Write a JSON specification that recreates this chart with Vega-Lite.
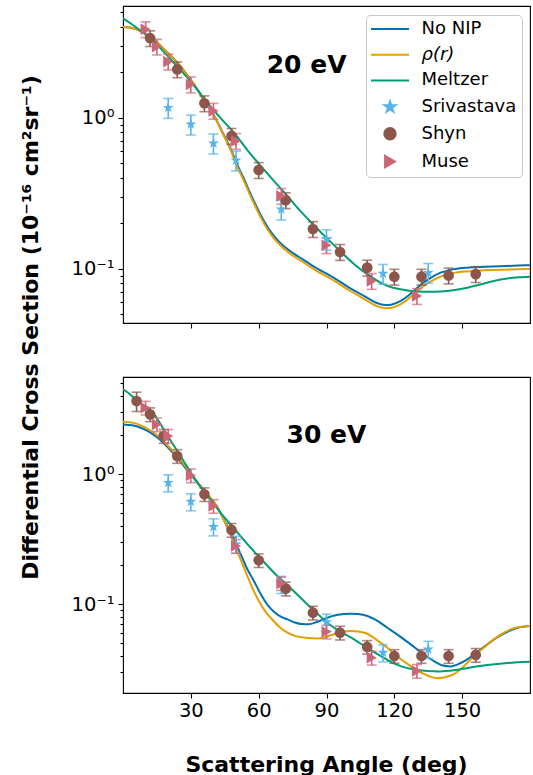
{
  "$schema": "https://vega.github.io/schema/vega-lite/v6.json",
  "padding": {"left": 18, "top": 5, "right": 4, "bottom": 0},
  "autosize": {"type": "pad"},
  "bounds": "flush",
  "spacing": 54,
  "config": {
    "font": "DejaVu Sans",
    "view": {"stroke": "black", "strokeWidth": 1.1},
    "axis": {"domain": false, "grid": false, "tickColor": "black", "labelColor": "black", "titleColor": "black", "labelFont": "DejaVu Sans", "titleFont": "DejaVu Sans", "tickWidth": 1.1}
  },
  "datasets": {
    "curves": [
      {"E":20,"series":"No NIP","angle":0,"dcs":3.98},{"E":20,"series":"No NIP","angle":3,"dcs":3.95},{"E":20,"series":"No NIP","angle":6,"dcs":3.85},{"E":20,"series":"No NIP","angle":10,"dcs":3.6},{"E":20,"series":"No NIP","angle":14,"dcs":3.28},{"E":20,"series":"No NIP","angle":18,"dcs":2.85},{"E":20,"series":"No NIP","angle":22,"dcs":2.5},{"E":20,"series":"No NIP","angle":24.1,"dcs":2.31},{"E":20,"series":"No NIP","angle":28,"dcs":1.95},{"E":20,"series":"No NIP","angle":32.9,"dcs":1.54},{"E":20,"series":"No NIP","angle":36,"dcs":1.28},{"E":20,"series":"No NIP","angle":40.3,"dcs":1.03},{"E":20,"series":"No NIP","angle":44,"dcs":0.8},{"E":20,"series":"No NIP","angle":47.7,"dcs":0.618},{"E":20,"series":"No NIP","angle":50.5,"dcs":0.49},{"E":20,"series":"No NIP","angle":53.6,"dcs":0.391},{"E":20,"series":"No NIP","angle":56,"dcs":0.322},{"E":20,"series":"No NIP","angle":58.7,"dcs":0.264},{"E":20,"series":"No NIP","angle":61,"dcs":0.225},{"E":20,"series":"No NIP","angle":64,"dcs":0.188},{"E":20,"series":"No NIP","angle":67,"dcs":0.163},{"E":20,"series":"No NIP","angle":70,"dcs":0.146},{"E":20,"series":"No NIP","angle":73,"dcs":0.134},{"E":20,"series":"No NIP","angle":76,"dcs":0.1245},{"E":20,"series":"No NIP","angle":79,"dcs":0.1165},{"E":20,"series":"No NIP","angle":85,"dcs":0.102},{"E":20,"series":"No NIP","angle":93.3,"dcs":0.087},{"E":20,"series":"No NIP","angle":100,"dcs":0.075},{"E":20,"series":"No NIP","angle":108.1,"dcs":0.0642},{"E":20,"series":"No NIP","angle":112,"dcs":0.0595},{"E":20,"series":"No NIP","angle":116.2,"dcs":0.0575},{"E":20,"series":"No NIP","angle":119,"dcs":0.058},{"E":20,"series":"No NIP","angle":122.8,"dcs":0.0612},{"E":20,"series":"No NIP","angle":126,"dcs":0.066},{"E":20,"series":"No NIP","angle":130.2,"dcs":0.0749},{"E":20,"series":"No NIP","angle":135,"dcs":0.085},{"E":20,"series":"No NIP","angle":140.5,"dcs":0.0941},{"E":20,"series":"No NIP","angle":146,"dcs":0.099},{"E":20,"series":"No NIP","angle":152.3,"dcs":0.1016},{"E":20,"series":"No NIP","angle":160,"dcs":0.103},{"E":20,"series":"No NIP","angle":167,"dcs":0.104},{"E":20,"series":"No NIP","angle":175,"dcs":0.105},{"E":20,"series":"No NIP","angle":180,"dcs":0.1056},
      {"E":20,"series":"ρ(r)","angle":0,"dcs":3.98},{"E":20,"series":"ρ(r)","angle":3,"dcs":3.95},{"E":20,"series":"ρ(r)","angle":6,"dcs":3.85},{"E":20,"series":"ρ(r)","angle":10,"dcs":3.6},{"E":20,"series":"ρ(r)","angle":14,"dcs":3.28},{"E":20,"series":"ρ(r)","angle":18,"dcs":2.85},{"E":20,"series":"ρ(r)","angle":22,"dcs":2.5},{"E":20,"series":"ρ(r)","angle":24.1,"dcs":2.31},{"E":20,"series":"ρ(r)","angle":28,"dcs":1.95},{"E":20,"series":"ρ(r)","angle":32.9,"dcs":1.54},{"E":20,"series":"ρ(r)","angle":36,"dcs":1.28},{"E":20,"series":"ρ(r)","angle":40.3,"dcs":1.03},{"E":20,"series":"ρ(r)","angle":44,"dcs":0.79},{"E":20,"series":"ρ(r)","angle":47.7,"dcs":0.605},{"E":20,"series":"ρ(r)","angle":50.5,"dcs":0.475},{"E":20,"series":"ρ(r)","angle":53.6,"dcs":0.378},{"E":20,"series":"ρ(r)","angle":56,"dcs":0.312},{"E":20,"series":"ρ(r)","angle":58.7,"dcs":0.255},{"E":20,"series":"ρ(r)","angle":61,"dcs":0.217},{"E":20,"series":"ρ(r)","angle":64,"dcs":0.181},{"E":20,"series":"ρ(r)","angle":67,"dcs":0.157},{"E":20,"series":"ρ(r)","angle":70,"dcs":0.141},{"E":20,"series":"ρ(r)","angle":73,"dcs":0.129},{"E":20,"series":"ρ(r)","angle":76,"dcs":0.1195},{"E":20,"series":"ρ(r)","angle":79,"dcs":0.112},{"E":20,"series":"ρ(r)","angle":85,"dcs":0.098},{"E":20,"series":"ρ(r)","angle":93.3,"dcs":0.0835},{"E":20,"series":"ρ(r)","angle":100,"dcs":0.072},{"E":20,"series":"ρ(r)","angle":108.1,"dcs":0.0613},{"E":20,"series":"ρ(r)","angle":112,"dcs":0.0568},{"E":20,"series":"ρ(r)","angle":116.2,"dcs":0.0548},{"E":20,"series":"ρ(r)","angle":119,"dcs":0.0552},{"E":20,"series":"ρ(r)","angle":122.8,"dcs":0.0582},{"E":20,"series":"ρ(r)","angle":126,"dcs":0.0628},{"E":20,"series":"ρ(r)","angle":130.2,"dcs":0.0712},{"E":20,"series":"ρ(r)","angle":135,"dcs":0.0805},{"E":20,"series":"ρ(r)","angle":140.5,"dcs":0.0888},{"E":20,"series":"ρ(r)","angle":146,"dcs":0.0935},{"E":20,"series":"ρ(r)","angle":152.3,"dcs":0.096},{"E":20,"series":"ρ(r)","angle":160,"dcs":0.0975},{"E":20,"series":"ρ(r)","angle":167,"dcs":0.0985},{"E":20,"series":"ρ(r)","angle":175,"dcs":0.0993},{"E":20,"series":"ρ(r)","angle":180,"dcs":0.0996},
      {"E":20,"series":"Meltzer","angle":0,"dcs":4.55},{"E":20,"series":"Meltzer","angle":1.2,"dcs":4.43},{"E":20,"series":"Meltzer","angle":5,"dcs":4.05},{"E":20,"series":"Meltzer","angle":10,"dcs":3.55},{"E":20,"series":"Meltzer","angle":13.8,"dcs":3.2},{"E":20,"series":"Meltzer","angle":18,"dcs":2.73},{"E":20,"series":"Meltzer","angle":20,"dcs":2.54},{"E":20,"series":"Meltzer","angle":24,"dcs":2.18},{"E":20,"series":"Meltzer","angle":28.5,"dcs":1.84},{"E":20,"series":"Meltzer","angle":33,"dcs":1.52},{"E":20,"series":"Meltzer","angle":37.3,"dcs":1.26},{"E":20,"series":"Meltzer","angle":43,"dcs":1.0},{"E":20,"series":"Meltzer","angle":49.1,"dcs":0.795},{"E":20,"series":"Meltzer","angle":55,"dcs":0.61},{"E":20,"series":"Meltzer","angle":60.9,"dcs":0.479},{"E":20,"series":"Meltzer","angle":66.8,"dcs":0.38},{"E":20,"series":"Meltzer","angle":72.7,"dcs":0.303},{"E":20,"series":"Meltzer","angle":78,"dcs":0.245},{"E":20,"series":"Meltzer","angle":84,"dcs":0.197},{"E":20,"series":"Meltzer","angle":90,"dcs":0.16},{"E":20,"series":"Meltzer","angle":96,"dcs":0.131},{"E":20,"series":"Meltzer","angle":102,"dcs":0.108},{"E":20,"series":"Meltzer","angle":108,"dcs":0.0921},{"E":20,"series":"Meltzer","angle":112,"dcs":0.084},{"E":20,"series":"Meltzer","angle":115.4,"dcs":0.0787},{"E":20,"series":"Meltzer","angle":119,"dcs":0.075},{"E":20,"series":"Meltzer","angle":122.8,"dcs":0.0732},{"E":20,"series":"Meltzer","angle":126.5,"dcs":0.0715},{"E":20,"series":"Meltzer","angle":130.2,"dcs":0.0707},{"E":20,"series":"Meltzer","angle":135,"dcs":0.0703},{"E":20,"series":"Meltzer","angle":140.5,"dcs":0.0707},{"E":20,"series":"Meltzer","angle":146,"dcs":0.072},{"E":20,"series":"Meltzer","angle":152.3,"dcs":0.0749},{"E":20,"series":"Meltzer","angle":158,"dcs":0.0785},{"E":20,"series":"Meltzer","angle":164,"dcs":0.083},{"E":20,"series":"Meltzer","angle":170,"dcs":0.0862},{"E":20,"series":"Meltzer","angle":175,"dcs":0.0878},{"E":20,"series":"Meltzer","angle":180,"dcs":0.0886},
      {"E":30,"series":"No NIP","angle":0,"dcs":2.42},{"E":30,"series":"No NIP","angle":4,"dcs":2.38},{"E":30,"series":"No NIP","angle":7.9,"dcs":2.28},{"E":30,"series":"No NIP","angle":12,"dcs":2.1},{"E":30,"series":"No NIP","angle":15.3,"dcs":1.91},{"E":30,"series":"No NIP","angle":20,"dcs":1.6},{"E":30,"series":"No NIP","angle":24.1,"dcs":1.34},{"E":30,"series":"No NIP","angle":28.5,"dcs":1.07},{"E":30,"series":"No NIP","angle":32.9,"dcs":0.862},{"E":30,"series":"No NIP","angle":37,"dcs":0.703},{"E":30,"series":"No NIP","angle":41.8,"dcs":0.553},{"E":30,"series":"No NIP","angle":45.5,"dcs":0.417},{"E":30,"series":"No NIP","angle":49.1,"dcs":0.316},{"E":30,"series":"No NIP","angle":52,"dcs":0.244},{"E":30,"series":"No NIP","angle":55,"dcs":0.186},{"E":30,"series":"No NIP","angle":58,"dcs":0.15},{"E":30,"series":"No NIP","angle":60.9,"dcs":0.12},{"E":30,"series":"No NIP","angle":63.9,"dcs":0.099},{"E":30,"series":"No NIP","angle":67,"dcs":0.087},{"E":30,"series":"No NIP","angle":70,"dcs":0.08},{"E":30,"series":"No NIP","angle":72.7,"dcs":0.0767},{"E":30,"series":"No NIP","angle":76,"dcs":0.0725},{"E":30,"series":"No NIP","angle":79,"dcs":0.0705},{"E":30,"series":"No NIP","angle":82,"dcs":0.0702},{"E":30,"series":"No NIP","angle":86,"dcs":0.0735},{"E":30,"series":"No NIP","angle":90.4,"dcs":0.0788},{"E":30,"series":"No NIP","angle":95,"dcs":0.083},{"E":30,"series":"No NIP","angle":100.7,"dcs":0.0847},{"E":30,"series":"No NIP","angle":104,"dcs":0.0842},{"E":30,"series":"No NIP","angle":108.1,"dcs":0.0813},{"E":30,"series":"No NIP","angle":112,"dcs":0.0755},{"E":30,"series":"No NIP","angle":116.9,"dcs":0.0661},{"E":30,"series":"No NIP","angle":122,"dcs":0.0575},{"E":30,"series":"No NIP","angle":127.2,"dcs":0.0492},{"E":30,"series":"No NIP","angle":132,"dcs":0.0425},{"E":30,"series":"No NIP","angle":137.5,"dcs":0.0366},{"E":30,"series":"No NIP","angle":141,"dcs":0.034},{"E":30,"series":"No NIP","angle":144.9,"dcs":0.0333},{"E":30,"series":"No NIP","angle":148,"dcs":0.0345},{"E":30,"series":"No NIP","angle":152.3,"dcs":0.0377},{"E":30,"series":"No NIP","angle":156,"dcs":0.042},{"E":30,"series":"No NIP","angle":161.1,"dcs":0.0492},{"E":30,"series":"No NIP","angle":165,"dcs":0.055},{"E":30,"series":"No NIP","angle":170,"dcs":0.0615},{"E":30,"series":"No NIP","angle":175,"dcs":0.0662},{"E":30,"series":"No NIP","angle":180,"dcs":0.0681},
      {"E":30,"series":"ρ(r)","angle":0,"dcs":2.54},{"E":30,"series":"ρ(r)","angle":4,"dcs":2.5},{"E":30,"series":"ρ(r)","angle":7.9,"dcs":2.38},{"E":30,"series":"ρ(r)","angle":12,"dcs":2.18},{"E":30,"series":"ρ(r)","angle":15.3,"dcs":1.98},{"E":30,"series":"ρ(r)","angle":20,"dcs":1.65},{"E":30,"series":"ρ(r)","angle":24.1,"dcs":1.37},{"E":30,"series":"ρ(r)","angle":28.5,"dcs":1.1},{"E":30,"series":"ρ(r)","angle":32.9,"dcs":0.875},{"E":30,"series":"ρ(r)","angle":37,"dcs":0.715},{"E":30,"series":"ρ(r)","angle":41.8,"dcs":0.56},{"E":30,"series":"ρ(r)","angle":45.5,"dcs":0.41},{"E":30,"series":"ρ(r)","angle":49.1,"dcs":0.295},{"E":30,"series":"ρ(r)","angle":52,"dcs":0.222},{"E":30,"series":"ρ(r)","angle":55,"dcs":0.165},{"E":30,"series":"ρ(r)","angle":58,"dcs":0.125},{"E":30,"series":"ρ(r)","angle":60.9,"dcs":0.1},{"E":30,"series":"ρ(r)","angle":63,"dcs":0.088},{"E":30,"series":"ρ(r)","angle":65.3,"dcs":0.0788},{"E":30,"series":"ρ(r)","angle":69,"dcs":0.0675},{"E":30,"series":"ρ(r)","angle":72.7,"dcs":0.0605},{"E":30,"series":"ρ(r)","angle":76,"dcs":0.0572},{"E":30,"series":"ρ(r)","angle":80.8,"dcs":0.0553},{"E":30,"series":"ρ(r)","angle":86,"dcs":0.0545},{"E":30,"series":"ρ(r)","angle":90,"dcs":0.0565},{"E":30,"series":"ρ(r)","angle":93.3,"dcs":0.0588},{"E":30,"series":"ρ(r)","angle":97,"dcs":0.0612},{"E":30,"series":"ρ(r)","angle":100.7,"dcs":0.0623},{"E":30,"series":"ρ(r)","angle":104,"dcs":0.0618},{"E":30,"series":"ρ(r)","angle":108.1,"dcs":0.0594},{"E":30,"series":"ρ(r)","angle":112,"dcs":0.0535},{"E":30,"series":"ρ(r)","angle":116.9,"dcs":0.0464},{"E":30,"series":"ρ(r)","angle":122,"dcs":0.039},{"E":30,"series":"ρ(r)","angle":127.2,"dcs":0.0335},{"E":30,"series":"ρ(r)","angle":132,"dcs":0.0298},{"E":30,"series":"ρ(r)","angle":136,"dcs":0.0277},{"E":30,"series":"ρ(r)","angle":139,"dcs":0.027},{"E":30,"series":"ρ(r)","angle":142,"dcs":0.0274},{"E":30,"series":"ρ(r)","angle":146.4,"dcs":0.029},{"E":30,"series":"ρ(r)","angle":150,"dcs":0.0325},{"E":30,"series":"ρ(r)","angle":155.2,"dcs":0.04},{"E":30,"series":"ρ(r)","angle":160,"dcs":0.047},{"E":30,"series":"ρ(r)","angle":164,"dcs":0.0538},{"E":30,"series":"ρ(r)","angle":168.5,"dcs":0.0605},{"E":30,"series":"ρ(r)","angle":172.9,"dcs":0.0654},{"E":30,"series":"ρ(r)","angle":177,"dcs":0.0675},{"E":30,"series":"ρ(r)","angle":180,"dcs":0.0681},
      {"E":30,"series":"Meltzer","angle":0,"dcs":4.5},{"E":30,"series":"Meltzer","angle":1.2,"dcs":4.37},{"E":30,"series":"Meltzer","angle":6,"dcs":3.73},{"E":30,"series":"Meltzer","angle":10,"dcs":3.28},{"E":30,"series":"Meltzer","angle":13.8,"dcs":2.89},{"E":30,"series":"Meltzer","angle":18,"dcs":2.21},{"E":30,"series":"Meltzer","angle":22.6,"dcs":1.65},{"E":30,"series":"Meltzer","angle":27,"dcs":1.25},{"E":30,"series":"Meltzer","angle":32.9,"dcs":0.862},{"E":30,"series":"Meltzer","angle":38,"dcs":0.662},{"E":30,"series":"Meltzer","angle":43.2,"dcs":0.506},{"E":30,"series":"Meltzer","angle":49,"dcs":0.385},{"E":30,"series":"Meltzer","angle":55,"dcs":0.29},{"E":30,"series":"Meltzer","angle":61,"dcs":0.224},{"E":30,"series":"Meltzer","angle":66.8,"dcs":0.175},{"E":30,"series":"Meltzer","angle":72,"dcs":0.144},{"E":30,"series":"Meltzer","angle":76,"dcs":0.124},{"E":30,"series":"Meltzer","angle":80.8,"dcs":0.103},{"E":30,"series":"Meltzer","angle":85,"dcs":0.0882},{"E":30,"series":"Meltzer","angle":90.4,"dcs":0.0722},{"E":30,"series":"Meltzer","angle":96,"dcs":0.0618},{"E":30,"series":"Meltzer","angle":102.2,"dcs":0.0538},{"E":30,"series":"Meltzer","angle":108,"dcs":0.0462},{"E":30,"series":"Meltzer","angle":114,"dcs":0.04},{"E":30,"series":"Meltzer","angle":118,"dcs":0.0365},{"E":30,"series":"Meltzer","angle":122.8,"dcs":0.0335},{"E":30,"series":"Meltzer","angle":128,"dcs":0.0318},{"E":30,"series":"Meltzer","angle":134.6,"dcs":0.0307},{"E":30,"series":"Meltzer","angle":140,"dcs":0.0305},{"E":30,"series":"Meltzer","angle":146.4,"dcs":0.0311},{"E":30,"series":"Meltzer","angle":153,"dcs":0.0325},{"E":30,"series":"Meltzer","angle":161.1,"dcs":0.0341},{"E":30,"series":"Meltzer","angle":170,"dcs":0.0354},{"E":30,"series":"Meltzer","angle":180,"dcs":0.0362}
    ],
    "exp": [
      {"E":20,"series":"Srivastava","angle":20,"dcs":1.165,"lo":0.99,"hi":1.34},{"E":20,"series":"Srivastava","angle":30,"dcs":0.904,"lo":0.768,"hi":1.04},{"E":20,"series":"Srivastava","angle":40,"dcs":0.677,"lo":0.575,"hi":0.779},{"E":20,"series":"Srivastava","angle":50,"dcs":0.522,"lo":0.444,"hi":0.6},{"E":20,"series":"Srivastava","angle":70,"dcs":0.247,"lo":0.21,"hi":0.284},{"E":20,"series":"Srivastava","angle":90,"dcs":0.157,"lo":0.133,"hi":0.181},{"E":20,"series":"Srivastava","angle":115,"dcs":0.0928,"lo":0.0789,"hi":0.1067},{"E":20,"series":"Srivastava","angle":135,"dcs":0.0941,"lo":0.08,"hi":0.1082},
      {"E":30,"series":"Srivastava","angle":20,"dcs":0.862,"lo":0.733,"hi":0.991},{"E":30,"series":"Srivastava","angle":30,"dcs":0.616,"lo":0.524,"hi":0.708},{"E":30,"series":"Srivastava","angle":40,"dcs":0.395,"lo":0.336,"hi":0.454},{"E":30,"series":"Srivastava","angle":50,"dcs":0.29,"lo":0.247,"hi":0.334},{"E":30,"series":"Srivastava","angle":70,"dcs":0.1425,"lo":0.121,"hi":0.164},{"E":30,"series":"Srivastava","angle":90,"dcs":0.0731,"lo":0.0621,"hi":0.0841},{"E":30,"series":"Srivastava","angle":115,"dcs":0.0425,"lo":0.0361,"hi":0.0489},{"E":30,"series":"Srivastava","angle":135,"dcs":0.0451,"lo":0.0383,"hi":0.0519},
      {"E":20,"series":"Shyn","angle":12,"dcs":3.36,"lo":2.96,"hi":3.76},{"E":20,"series":"Shyn","angle":24,"dcs":2.09,"lo":1.84,"hi":2.34},{"E":20,"series":"Shyn","angle":36,"dcs":1.245,"lo":1.096,"hi":1.394},{"E":20,"series":"Shyn","angle":48,"dcs":0.757,"lo":0.666,"hi":0.848},{"E":20,"series":"Shyn","angle":60,"dcs":0.45,"lo":0.396,"hi":0.504},{"E":20,"series":"Shyn","angle":72,"dcs":0.284,"lo":0.25,"hi":0.318},{"E":20,"series":"Shyn","angle":84,"dcs":0.183,"lo":0.161,"hi":0.205},{"E":20,"series":"Shyn","angle":96,"dcs":0.129,"lo":0.1135,"hi":0.1445},{"E":20,"series":"Shyn","angle":108,"dcs":0.1016,"lo":0.0894,"hi":0.1138},{"E":20,"series":"Shyn","angle":120,"dcs":0.0885,"lo":0.0779,"hi":0.0991},{"E":20,"series":"Shyn","angle":132,"dcs":0.0885,"lo":0.0779,"hi":0.0991},{"E":20,"series":"Shyn","angle":144,"dcs":0.0901,"lo":0.0793,"hi":0.1009},{"E":20,"series":"Shyn","angle":156,"dcs":0.0921,"lo":0.081,"hi":0.1032},
      {"E":30,"series":"Shyn","angle":6,"dcs":3.66,"lo":3.04,"hi":4.28},{"E":30,"series":"Shyn","angle":12,"dcs":2.89,"lo":2.54,"hi":3.24},{"E":30,"series":"Shyn","angle":18,"dcs":1.97,"lo":1.73,"hi":2.21},{"E":30,"series":"Shyn","angle":24,"dcs":1.38,"lo":1.214,"hi":1.546},{"E":30,"series":"Shyn","angle":36,"dcs":0.702,"lo":0.618,"hi":0.786},{"E":30,"series":"Shyn","angle":48,"dcs":0.373,"lo":0.328,"hi":0.418},{"E":30,"series":"Shyn","angle":60,"dcs":0.218,"lo":0.192,"hi":0.244},{"E":30,"series":"Shyn","angle":72,"dcs":0.132,"lo":0.116,"hi":0.148},{"E":30,"series":"Shyn","angle":84,"dcs":0.0862,"lo":0.0759,"hi":0.0965},{"E":30,"series":"Shyn","angle":96,"dcs":0.0605,"lo":0.0532,"hi":0.0678},{"E":30,"series":"Shyn","angle":108,"dcs":0.047,"lo":0.0414,"hi":0.0526},{"E":30,"series":"Shyn","angle":120,"dcs":0.04,"lo":0.0352,"hi":0.0448},{"E":30,"series":"Shyn","angle":132,"dcs":0.04,"lo":0.0352,"hi":0.0448},{"E":30,"series":"Shyn","angle":144,"dcs":0.04,"lo":0.0352,"hi":0.0448},{"E":30,"series":"Shyn","angle":156,"dcs":0.0408,"lo":0.0359,"hi":0.0457},
      {"E":20,"series":"Muse","angle":10,"dcs":3.85,"lo":3.39,"hi":4.31},{"E":20,"series":"Muse","angle":15,"dcs":2.95,"lo":2.6,"hi":3.3},{"E":20,"series":"Muse","angle":20,"dcs":2.35,"lo":2.07,"hi":2.63},{"E":20,"series":"Muse","angle":30,"dcs":1.66,"lo":1.46,"hi":1.86},{"E":20,"series":"Muse","angle":40,"dcs":1.11,"lo":0.977,"hi":1.243},{"E":20,"series":"Muse","angle":50,"dcs":0.701,"lo":0.617,"hi":0.785},{"E":20,"series":"Muse","angle":70,"dcs":0.303,"lo":0.267,"hi":0.339},{"E":20,"series":"Muse","angle":90,"dcs":0.143,"lo":0.126,"hi":0.16},{"E":20,"series":"Muse","angle":110,"dcs":0.0829,"lo":0.073,"hi":0.0928},{"E":20,"series":"Muse","angle":130,"dcs":0.0659,"lo":0.058,"hi":0.0738},
      {"E":30,"series":"Muse","angle":10,"dcs":3.25,"lo":2.86,"hi":3.64},{"E":30,"series":"Muse","angle":15,"dcs":2.42,"lo":2.13,"hi":2.71},{"E":30,"series":"Muse","angle":20,"dcs":1.97,"lo":1.73,"hi":2.21},{"E":30,"series":"Muse","angle":30,"dcs":0.98,"lo":0.862,"hi":1.098},{"E":30,"series":"Muse","angle":40,"dcs":0.57,"lo":0.502,"hi":0.638},{"E":30,"series":"Muse","angle":50,"dcs":0.281,"lo":0.247,"hi":0.315},{"E":30,"series":"Muse","angle":70,"dcs":0.145,"lo":0.128,"hi":0.162},{"E":30,"series":"Muse","angle":90,"dcs":0.0616,"lo":0.0542,"hi":0.069},{"E":30,"series":"Muse","angle":110,"dcs":0.0388,"lo":0.0341,"hi":0.0435},{"E":30,"series":"Muse","angle":130,"dcs":0.0307,"lo":0.027,"hi":0.0344}
    ],
    "labels": [
      {"E":20,"angle":81.2,"dcs":2.22,"text":"20 eV"},
      {"E":30,"angle":90.0,"dcs":1.99,"text":"30 eV"}
    ]
  },
  "vconcat": [
    {
      "width": 407, "height": 317,
      "layer": [
        {
          "data": {"name": "curves"},
          "transform": [{"filter": "datum.E == 20"}],
          "mark": {"type": "line", "strokeWidth": 2, "interpolate": "monotone", "clip": true},
          "encoding": {
            "x": {"field": "angle", "type": "quantitative", "scale": {"domain": [0, 180], "nice": false, "zero": false},
                  "axis": {"values": [30, 60, 90, 120, 150], "labels": false, "tickSize": 5, "title": null}},
            "y": {"field": "dcs", "type": "quantitative", "scale": {"type": "log", "domain": [0.0437, 5.49], "nice": false},
                  "axis": {"values": [0.05,0.06,0.07,0.08,0.09,0.1,0.2,0.3,0.4,0.5,0.6,0.7,0.8,0.9,1,2,3,4,5],
                           "labelExpr": "datum.value == 1 ? '10⁰' : (datum.value == 0.1 ? '10⁻¹' : '')",
                           "labelFontSize": {"condition": {"test": "datum.value == 1 || datum.value == 0.1", "value": 19.5}, "value": 1},
                           "labelPadding": 4, "labelOverlap": false,
                           "tickSize": {"condition": {"test": "datum.value == 1 || datum.value == 0.1", "value": 5}, "value": 3},
                           "title": "Differential Cross Section (10⁻¹⁶ cm²sr⁻¹)",
                           "titleFontSize": 22, "titleFontWeight": "bold", "titleX": -93, "titleY": 321,
                           "titleBaseline": "middle", "titleAlign": "center", "titleAngle": -90}},
            "color": {"field": "series", "type": "nominal",
                      "scale": {"domain": ["No NIP", "ρ(r)", "Meltzer", "Srivastava", "Shyn", "Muse"],
                                "range": ["#0072B2", "#E69F00", "#009E73", "#56B4E9", "#8C564B", "#CC6677"]},
                      "legend": {
                        "title": null, "orient": "none", "legendX": 243, "legendY": 9,
                        "padding": 5, "fillColor": "white", "strokeColor": "#c8c8c8", "cornerRadius": 4,
                        "labelFont": "DejaVu Sans", "labelFontSize": 18, "labelColor": "black", "labelOffset": 13, "labelLimit": 300,
                        "rowPadding": 7.7, "symbolSize": 130, "symbolStrokeWidth": 2, "symbolOpacity": 1,
                        "encode": {
                          "symbols": {"update": {
                            "x": {"value": 19},
                            "fill": {"signal": "indexof(['No NIP','ρ(r)','Meltzer'], datum.value) >= 0 ? 'transparent' : scale('color', datum.value)"},
                            "stroke": {"signal": "indexof(['No NIP','ρ(r)','Meltzer'], datum.value) >= 0 ? scale('color', datum.value) : 'transparent'"},
                            "size": {"signal": "indexof(['No NIP','ρ(r)','Meltzer'], datum.value) >= 0 ? 1444 : 130"}
                          }},
                          "labels": {"update": {
                            "x": {"value": 50.5},
                            "fontStyle": {"signal": "datum.value == 'ρ(r)' ? 'italic' : 'normal'"}
                          }}
                        }
                      }},
            "detail": {"field": "series"}
          }
        },
        {
          "data": {"name": "exp"},
          "transform": [{"filter": "datum.E == 20"}],
          "mark": {"type": "rule", "strokeWidth": 1.6},
          "encoding": {
            "x": {"field": "angle", "type": "quantitative"},
            "y": {"field": "lo", "type": "quantitative"},
            "y2": {"field": "hi"},
            "color": {"field": "series", "type": "nominal"}
          }
        },
        {
          "data": {"name": "exp"},
          "transform": [{"filter": "datum.E == 20"}],
          "mark": {"type": "tick", "orient": "horizontal", "size": 10, "thickness": 1.6},
          "encoding": {
            "x": {"field": "angle", "type": "quantitative"},
            "y": {"field": "lo", "type": "quantitative"},
            "color": {"field": "series", "type": "nominal"}
          }
        },
        {
          "data": {"name": "exp"},
          "transform": [{"filter": "datum.E == 20"}],
          "mark": {"type": "tick", "orient": "horizontal", "size": 10, "thickness": 1.6},
          "encoding": {
            "x": {"field": "angle", "type": "quantitative"},
            "y": {"field": "hi", "type": "quantitative"},
            "color": {"field": "series", "type": "nominal"}
          }
        },
        {
          "data": {"name": "exp"},
          "transform": [{"filter": "datum.E == 20"}],
          "mark": {"type": "point", "filled": true, "opacity": 1},
          "encoding": {
            "x": {"field": "angle", "type": "quantitative"},
            "y": {"field": "dcs", "type": "quantitative"},
            "color": {"field": "series", "type": "nominal"},
            "shape": {"field": "series", "type": "nominal",
                      "scale": {"domain": ["No NIP", "ρ(r)", "Meltzer", "Srivastava", "Shyn", "Muse"],
                                "range": ["stroke", "stroke", "stroke", "M0,-1L0.2245,-0.309L0.951,-0.309L0.363,0.118L0.588,0.809L0,0.382L-0.588,0.809L-0.363,0.118L-0.951,-0.309L-0.2245,-0.309Z", "circle", "triangle-right"]}},
            "size": {"condition": {"test": "datum.series == 'Shyn'", "value": 115}, "value": 135}
          }
        },
        {
          "data": {"name": "labels"},
          "transform": [{"filter": "datum.E == 20"}],
          "mark": {"type": "text", "fontSize": 25, "fontWeight": "bold", "font": "DejaVu Sans", "color": "black", "baseline": "middle", "align": "center"},
          "encoding": {
            "x": {"field": "angle", "type": "quantitative"},
            "y": {"field": "dcs", "type": "quantitative"},
            "text": {"field": "text"}
          }
        }
      ]
    },
    {
      "width": 407, "height": 316,
      "layer": [
        {
          "data": {"name": "curves"},
          "transform": [{"filter": "datum.E == 30"}],
          "mark": {"type": "line", "strokeWidth": 2, "interpolate": "monotone", "clip": true},
          "encoding": {
            "x": {"field": "angle", "type": "quantitative", "scale": {"domain": [0, 180], "nice": false, "zero": false},
                  "axis": {"values": [30, 60, 90, 120, 150], "tickSize": 5, "labelFontSize": 19.5, "labelPadding": 3,
                           "title": "Scattering Angle (deg)", "titleFontSize": 22, "titleFontWeight": "bold",
                           "titleX": 203, "titleY": 78, "titleBaseline": "alphabetic", "titleAlign": "center"}},
            "y": {"field": "dcs", "type": "quantitative", "scale": {"type": "log", "domain": [0.0208, 5.6], "nice": false},
                  "axis": {"values": [0.03,0.04,0.05,0.06,0.07,0.08,0.09,0.1,0.2,0.3,0.4,0.5,0.6,0.7,0.8,0.9,1,2,3,4,5],
                           "labelExpr": "datum.value == 1 ? '10⁰' : (datum.value == 0.1 ? '10⁻¹' : '')",
                           "labelFontSize": {"condition": {"test": "datum.value == 1 || datum.value == 0.1", "value": 19.5}, "value": 1},
                           "labelPadding": 4, "labelOverlap": false,
                           "tickSize": {"condition": {"test": "datum.value == 1 || datum.value == 0.1", "value": 5}, "value": 3},
                           "title": null}},
            "color": {"field": "series", "type": "nominal"},
            "detail": {"field": "series"}
          }
        },
        {
          "data": {"name": "exp"},
          "transform": [{"filter": "datum.E == 30"}],
          "mark": {"type": "rule", "strokeWidth": 1.6},
          "encoding": {
            "x": {"field": "angle", "type": "quantitative"},
            "y": {"field": "lo", "type": "quantitative"},
            "y2": {"field": "hi"},
            "color": {"field": "series", "type": "nominal"}
          }
        },
        {
          "data": {"name": "exp"},
          "transform": [{"filter": "datum.E == 30"}],
          "mark": {"type": "tick", "orient": "horizontal", "size": 10, "thickness": 1.6},
          "encoding": {
            "x": {"field": "angle", "type": "quantitative"},
            "y": {"field": "lo", "type": "quantitative"},
            "color": {"field": "series", "type": "nominal"}
          }
        },
        {
          "data": {"name": "exp"},
          "transform": [{"filter": "datum.E == 30"}],
          "mark": {"type": "tick", "orient": "horizontal", "size": 10, "thickness": 1.6},
          "encoding": {
            "x": {"field": "angle", "type": "quantitative"},
            "y": {"field": "hi", "type": "quantitative"},
            "color": {"field": "series", "type": "nominal"}
          }
        },
        {
          "data": {"name": "exp"},
          "transform": [{"filter": "datum.E == 30"}],
          "mark": {"type": "point", "filled": true, "opacity": 1},
          "encoding": {
            "x": {"field": "angle", "type": "quantitative"},
            "y": {"field": "dcs", "type": "quantitative"},
            "color": {"field": "series", "type": "nominal"},
            "shape": {"field": "series", "type": "nominal"},
            "size": {"condition": {"test": "datum.series == 'Shyn'", "value": 115}, "value": 135}
          }
        },
        {
          "data": {"name": "labels"},
          "transform": [{"filter": "datum.E == 30"}],
          "mark": {"type": "text", "fontSize": 25, "fontWeight": "bold", "font": "DejaVu Sans", "color": "black", "baseline": "middle", "align": "center"},
          "encoding": {
            "x": {"field": "angle", "type": "quantitative"},
            "y": {"field": "dcs", "type": "quantitative"},
            "text": {"field": "text"}
          }
        }
      ]
    }
  ],
  "resolve": {"scale": {"y": "independent"}}
}
